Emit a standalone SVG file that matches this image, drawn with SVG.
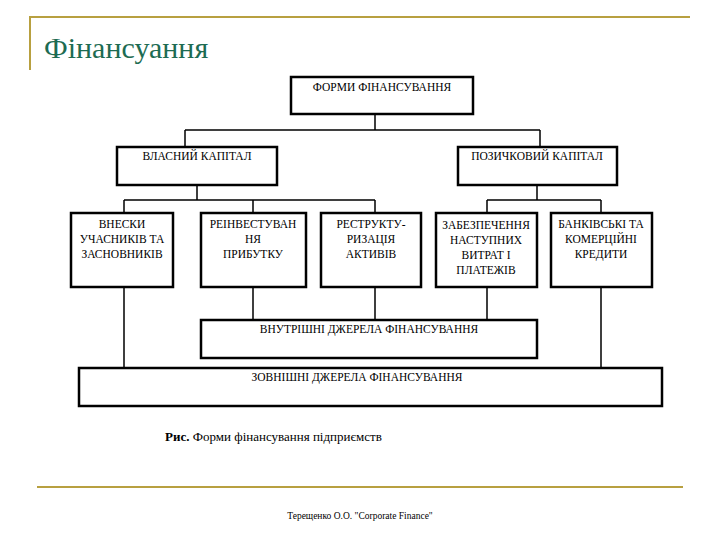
<svg xmlns="http://www.w3.org/2000/svg" width="720" height="540" viewBox="0 0 720 540">
<style>
text{font-family:'Liberation Serif','Times New Roman','DejaVu Serif',serif}
.b{fill:#fff;stroke:#000;stroke-width:2.5}
.t{font-size:11.5px;text-anchor:middle;fill:#000}
.c{stroke:#000;stroke-width:1.5;fill:none}
</style>
<rect width="720" height="540" fill="#fff"/>
<path d="M30 70V17H690" stroke="#b8a040" stroke-width="2" fill="none"/>
<text x="44" y="58" font-size="30" fill="#1d6b52">Фінансуання</text>
<g id="connectors" class="c">
<path d="M375 114V130M185 130H540M185 130V147M540 130V147"/>
<path d="M197 185V200M124 200H375M124 200V213M253 200V213M375 200V213"/>
<path d="M537 185V200M487 200H601M487 200V213M601 200V213"/>
<path d="M124 287V368M601 287V368M253 287V320M375 287V320M487 287V320"/>
</g>
<g id="n0"><rect class="b" x="291" y="77" width="182" height="37"/><text class="t" x="382" y="91">ФОРМИ ФІНАНСУВАННЯ</text></g>
<g id="n1"><rect class="b" x="117" y="147" width="160" height="38"/><text class="t" x="197" y="160">ВЛАСНИЙ КАПІТАЛ</text></g>
<g id="n2"><rect class="b" x="458" y="147" width="159" height="38"/><text class="t" x="537" y="160">ПОЗИЧКОВИЙ КАПІТАЛ</text></g>
<g id="n3"><rect class="b" x="71" y="213" width="102" height="74"/><text class="t" x="122" y="228">ВНЕСКИ</text><text class="t" x="122" y="243">УЧАСНИКІВ ТА</text><text class="t" x="122" y="258">ЗАСНОВНИКІВ</text></g>
<g id="n4"><rect class="b" x="201" y="213" width="105" height="74"/><text class="t" x="253" y="228">РЕІНВЕСТУВАН</text><text class="t" x="253" y="243">НЯ</text><text class="t" x="253" y="258">ПРИБУТКУ</text></g>
<g id="n5"><rect class="b" x="321" y="213" width="100" height="74"/><text class="t" x="371" y="228">РЕСТРУКТУ-</text><text class="t" x="371" y="243">РИЗАЦІЯ</text><text class="t" x="371" y="258">АКТИВІВ</text></g>
<g id="n6"><rect class="b" x="436" y="213" width="101" height="74"/><text class="t" x="486" y="229">ЗАБЕЗПЕЧЕННЯ</text><text class="t" x="486" y="244">НАСТУПНИХ</text><text class="t" x="486" y="259">ВИТРАТ І</text><text class="t" x="486" y="274">ПЛАТЕЖІВ</text></g>
<g id="n7"><rect class="b" x="551" y="213" width="101" height="74"/><text class="t" x="601" y="228">БАНКІВСЬКІ ТА</text><text class="t" x="601" y="243">КОМЕРЦІЙНІ</text><text class="t" x="601" y="258">КРЕДИТИ</text></g>
<g id="n8"><rect class="b" x="201" y="320" width="336" height="38" stroke-width="2"/><text class="t" x="369" y="333">ВНУТРІШНІ ДЖЕРЕЛА    ФІНАНСУВАННЯ</text></g>
<g id="n9"><rect class="b" x="79" y="368" width="583" height="38" stroke-width="2"/><text class="t" x="357" y="381">ЗОВНІШНІ ДЖЕРЕЛА ФІНАНСУВАННЯ</text></g>
<text x="165" y="441" font-size="13"><tspan font-weight="bold">Рис.</tspan> Форми фінансування підприємств</text>
<line x1="37" y1="487" x2="683" y2="487" stroke="#b8a040" stroke-width="2"/>
<text x="360" y="519" font-size="9.5" text-anchor="middle">Терещенко О.О. "Corporate Finance"</text>
</svg>
